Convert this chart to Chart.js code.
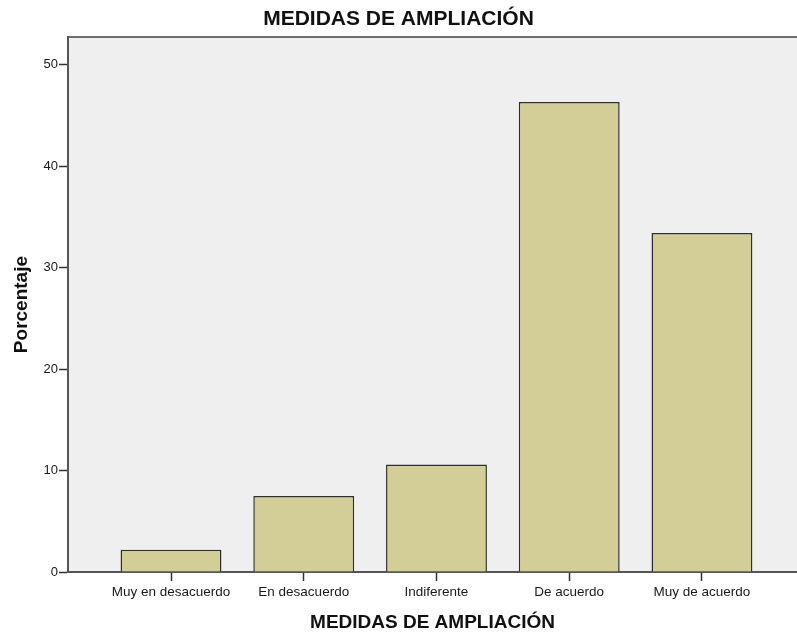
<!DOCTYPE html>
<html>
<head>
<meta charset="utf-8">
<script src="https://cdn.jsdelivr.net/npm/chart.js@4.4.0/dist/chart.umd.min.js"></script>
<style>
    html, body { margin: 0; padding: 0; background: #fff; }
    #wrap { width: 797px; height: 632px; }
</style>
</head>
<body>
<div id="wrap"><canvas id="bar-chart" width="797" height="632"></canvas></div>
<script>
const categories = ['Muy en desacuerdo', 'En desacuerdo', 'Indiferente', 'De acuerdo', 'Muy de acuerdo']
const porcentaje = [2.2, 7.5, 10.6, 46.3, 33.4]
const yTicks = [0, 10, 20, 30, 40, 50]

// gray plot background plus the top frame line
const plotFrame = {
    id: 'plotFrame',
    beforeDraw(chart) {
        const { ctx, chartArea } = chart
        ctx.save()
        ctx.fillStyle = '#efefef'
        ctx.fillRect(chartArea.left, chartArea.top, chartArea.right - chartArea.left, chartArea.bottom - chartArea.top)
        ctx.strokeStyle = '#6e6e6e'
        ctx.lineWidth = 2
        ctx.beginPath()
        ctx.moveTo(chartArea.left, chartArea.top)
        ctx.lineTo(chartArea.right, chartArea.top)
        ctx.stroke()
        ctx.restore()
    }
}

const dataBar = {
    datasets: [{
        label: 'Porcentaje',
        data: porcentaje.map((v, i) => ({ x: i, y: v })),
        backgroundColor: '#d3ce97',
        borderColor: '#2e2e2e',
        borderWidth: 1.5,
        categoryPercentage: 1,
        barPercentage: 0.76
    }]
}

const configBar = {
    type: 'bar',
    data: dataBar,
    plugins: [plotFrame],
    options: {
        responsive: false,
        animation: false,
        layout: { padding: { left: 0, right: 0, top: 0, bottom: 0 } },
        plugins: {
            legend: { display: false },
            tooltip: { enabled: false },
            title: {
                display: true,
                text: 'MEDIDAS DE AMPLIACIÓN',
                color: '#111',
                font: { family: 'Arial, "Liberation Sans"', size: 21, weight: 'bold', lineHeight: 1.1 },
                padding: { top: 8, bottom: 6 }
            }
        },
        scales: {
            x: {
                type: 'linear',
                offset: false,
                min: -0.776,
                max: 4.716,
                afterBuildTicks: axis => { axis.ticks = categories.map((c, i) => ({ value: i })) },
                afterFit: scale => { scale.height = 60 },
                ticks: {
                    autoSkip: false,
                    maxRotation: 0,
                    padding: 3,
                    color: '#1a1a1a',
                    font: { family: 'Arial, "Liberation Sans"', size: 13.5 },
                    callback: v => categories[v]
                },
                grid: { offset: false, drawOnChartArea: false, tickLength: 9, color: '#333', tickWidth: 1.5 },
                border: { display: true, color: '#555', width: 2 },
                title: {
                    display: true,
                    text: 'MEDIDAS DE AMPLIACIÓN',
                    color: '#111',
                    font: { family: 'Arial, "Liberation Sans"', size: 19, weight: 'bold', lineHeight: 1 },
                    padding: { top: 0, bottom: 0 }
                }
            },
            y: {
                min: 0,
                max: 52.7,
                afterBuildTicks: axis => { axis.ticks = yTicks.map(v => ({ value: v })) },
                afterFit: scale => { scale.width = 68 },
                ticks: {
                    padding: 1,
                    color: '#1a1a1a',
                    font: { family: 'Arial, "Liberation Sans"', size: 13 }
                },
                grid: { drawOnChartArea: false, tickLength: 9, color: '#333', tickWidth: 1.5 },
                border: { display: true, color: '#555', width: 2 },
                title: {
                    display: true,
                    text: 'Porcentaje',
                    color: '#111',
                    font: { family: 'Arial, "Liberation Sans"', size: 19, weight: 'bold' },
                    padding: { top: 10, bottom: 0 }
                }
            }
        }
    }
}

const context = document.getElementById('bar-chart').getContext('2d')
const chartBar = new Chart(context, configBar)
</script>
</body>
</html>
